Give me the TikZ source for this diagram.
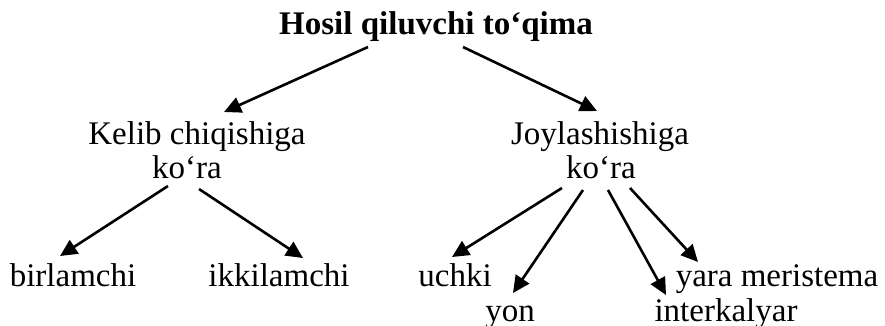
\documentclass[tikz,border=0pt]{standalone}
\usepackage{fontspec}
\setmainfont{Liberation Serif}
\usetikzlibrary{arrows.meta}
\begin{document}
\begin{tikzpicture}[x=1pt,y=-1pt,
  lbl/.style={anchor=base,inner sep=0pt,font=\fontsize{33}{34}\selectfont},
  ttl/.style={lbl,font=\fontsize{33}{34}\selectfont\bfseries},
  link/.style={line width=2.6pt,-{Triangle[length=17pt,width=16pt]}}]
\useasboundingbox (0,0) rectangle (885,326);
% labels
\node[ttl] (title) at (436,35) {Hosil qiluvchi to‘qima};
\node[lbl] (kelib) at (197,144) {Kelib chiqishiga};
\node[lbl] (kora1) at (187,178) {ko‘ra};
\node[lbl] (joy) at (600,144) {Joylashishiga};
\node[lbl] (kora2) at (601,178) {ko‘ra};
\node[lbl] (birl) at (73,286) {birlamchi};
\node[lbl] (ikki) at (279,286) {ikkilamchi};
\node[lbl] (uchki) at (455,286) {uchki};
\node[lbl] (yon) at (510,321) {yon};
\node[lbl] (inter) at (726,321) {interkalyar};
\node[lbl] (yara) at (777,286) {yara meristema};
% connector ends
\coordinate (tA) at (368,47);  \coordinate (hA) at (224,112);
\coordinate (tB) at (463,47);  \coordinate (hB) at (597,111);
\coordinate (kA) at (168,186); \coordinate (hC) at (60,256);
\coordinate (kB) at (199,189); \coordinate (hD) at (303,258);
\coordinate (jA) at (562,188); \coordinate (hE) at (452,257);
\coordinate (jB) at (583,190); \coordinate (hF) at (513,293);
\coordinate (jC) at (608,190); \coordinate (hG) at (666,295);
\coordinate (jD) at (630,188); \coordinate (hH) at (698,262);
% arrows
\draw[link] (tA) -- (hA);
\draw[link] (tB) -- (hB);
\draw[link] (kA) -- (hC);
\draw[link] (kB) -- (hD);
\draw[link] (jA) -- (hE);
\draw[link] (jB) -- (hF);
\draw[link] (jC) -- (hG);
\draw[link] (jD) -- (hH);
\end{tikzpicture}
\end{document}
